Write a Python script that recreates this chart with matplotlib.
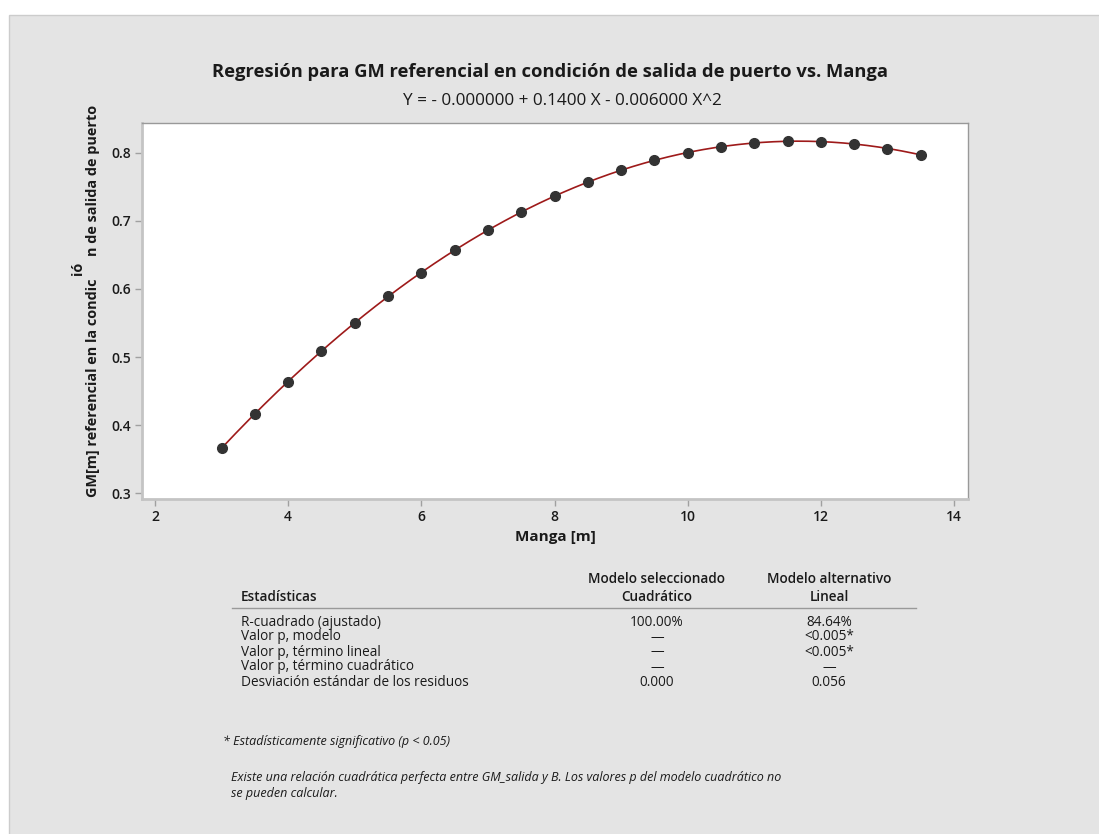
import matplotlib
matplotlib.use("Agg")
import matplotlib.pyplot as plt
import numpy as np
from matplotlib.patches import Rectangle

plt.rcParams['font.family'] = ['Open Sans', 'DejaVu Sans']

# datos
manga = [3.0, 3.5, 4.0, 4.5, 5.0, 5.5, 6.0, 6.5, 7.0, 7.5, 8.0,
         8.5, 9.0, 9.5, 10.0, 10.5, 11.0, 11.5, 12.0, 12.5, 13.0, 13.5]
gm_salida = [0.366, 0.417, 0.464, 0.509, 0.550, 0.589, 0.624, 0.657, 0.686, 0.713, 0.736,
             0.757, 0.774, 0.789, 0.800, 0.809, 0.814, 0.817, 0.816, 0.813, 0.806, 0.797]

x_ticks = [2, 4, 6, 8, 10, 12, 14]
y_ticks = [0.3, 0.4, 0.5, 0.6, 0.7, 0.8]

titulo = "Regresión para GM referencial en condición de salida de puerto vs. Manga"
ecuacion = "Y = - 0.000000 + 0.1400 X - 0.006000 X^2"

filas = ["R-cuadrado (ajustado)", "Valor p, modelo", "Valor p, término lineal",
         "Valor p, término cuadrático", "Desviación estándar de los residuos"]
col_cuad = ["100.00%", "—", "—", "—", "0.000"]
col_lin = ["84.64%", "<0.005*", "<0.005*", "—", "0.056"]

W, H = 1099, 834
fig = plt.figure(figsize=(W / 100, H / 100), dpi=100)
fig.patch.set_facecolor('white')
TXT = '#1a1a1a'

def px(x, y):
    # pixeles (desde arriba a la izquierda) -> fraccion de figura
    return x / W, 1 - y / H

# panel gris
x0, y0 = px(9, 15)
fig.add_artist(Rectangle((x0, -0.01), 1 - x0 + 0.01, y0 + 0.01, transform=fig.transFigure,
                         facecolor='#e4e4e4', edgecolor='#cccccc', linewidth=1, zorder=-10))

l, t = px(142, 123)
r, b = px(968, 499)
ax = fig.add_axes([l, b, r - l, t - b])
ax.set_facecolor('white')

# ajuste cuadratico
coef = np.polyfit(manga, gm_salida, 2)
xs = np.linspace(min(manga), max(manga), 300)
ax.plot(xs, np.polyval(coef, xs), color='#9e1a1a', linewidth=1.2, zorder=2)
ax.plot(manga, gm_salida, 'o', color='#333333', markersize=7, zorder=3)

ax.set_xlim(1.805, 14.21)
ax.set_ylim(0.2916, 0.8436)
ax.set_xticks(x_ticks)
ax.set_yticks(y_ticks)
ax.set_xticklabels([str(v) for v in x_ticks])
ax.set_yticklabels(["%.1f" % v for v in y_ticks])
ax.tick_params(axis='both', direction='out', length=5, width=1, color='#a0a0a0',
               labelsize=10, labelcolor=TXT, pad=3)
for lab in ax.get_xticklabels() + ax.get_yticklabels():
    lab.set_fontweight('semibold')

for s in ['top', 'right']:
    ax.spines[s].set_color('#999999')
    ax.spines[s].set_linewidth(1)
for s in ['left', 'bottom']:
    ax.spines[s].set_color('#c4c4c4')
    ax.spines[s].set_linewidth(2)

ax.set_xlabel("Manga [m]", fontsize=11, fontweight='bold', color=TXT, labelpad=4)

# etiqueta del eje y (con el "ió" desplazado como en el original)
fs_y = 10.4
fig.text(*px(93, 497), "GM[m] referencial en la condic", rotation=90, rotation_mode='anchor',
         ha='left', va='center', fontsize=fs_y, fontweight='bold', color=TXT)
fig.text(*px(93, 105), "n de salida de puerto", rotation=90, rotation_mode='anchor',
         ha='right', va='center', fontsize=fs_y, fontweight='bold', color=TXT)
fig.text(*px(78, 268), "ió", rotation=90, rotation_mode='anchor',
         ha='center', va='center', fontsize=fs_y, fontweight='bold', color=TXT)

fig.text(*px(550, 72), titulo, ha='center', va='center', fontsize=13.2,
         fontweight='bold', color=TXT)
fig.text(*px(562, 101), ecuacion, ha='center', va='center', fontsize=12.3, color=TXT)

# tabla de estadisticas
fs = 9.8
c1, c2 = 657, 829
fig.text(*px(241, 597), "Estadísticas", ha='left', va='center', fontsize=fs,
         fontweight='semibold', color=TXT)
fig.text(*px(c1, 579), "Modelo seleccionado", ha='center', va='center', fontsize=fs,
         fontweight='semibold', color=TXT)
fig.text(*px(c1, 597), "Cuadrático", ha='center', va='center', fontsize=fs,
         fontweight='semibold', color=TXT)
fig.text(*px(c2, 579), "Modelo alternativo", ha='center', va='center', fontsize=fs,
         fontweight='semibold', color=TXT)
fig.text(*px(c2, 597), "Lineal", ha='center', va='center', fontsize=fs,
         fontweight='semibold', color=TXT)
lx0, ly = px(232, 608)
lx1, _ = px(916, 608)
fig.add_artist(plt.Line2D([lx0, lx1], [ly, ly], color='#999999', linewidth=1,
                          transform=fig.transFigure))

for i, (f, a, bb) in enumerate(zip(filas, col_cuad, col_lin)):
    yy = 622 + 15 * i
    fig.text(*px(241, yy), f, ha='left', va='center', fontsize=fs, color=TXT)
    fig.text(*px(c1, yy), a, ha='center', va='center', fontsize=fs, color=TXT)
    fig.text(*px(c2, yy), bb, ha='center', va='center', fontsize=fs, color=TXT)

fs_n = 9.0
fig.text(*px(223, 741), "* Estadísticamente significativo (p < 0.05)", ha='left', va='center',
         fontsize=fs_n, style='italic', color=TXT)
fig.text(*px(231, 777), "Existe una relación cuadrática perfecta entre GM_salida y B. Los valores p del modelo cuadrático no",
         ha='left', va='center', fontsize=fs_n, style='italic', color=TXT)
fig.text(*px(231, 793), "se pueden calcular.", ha='left', va='center', fontsize=fs_n,
         style='italic', color=TXT)

fig.savefig("out.png", dpi=100, facecolor=fig.get_facecolor())
